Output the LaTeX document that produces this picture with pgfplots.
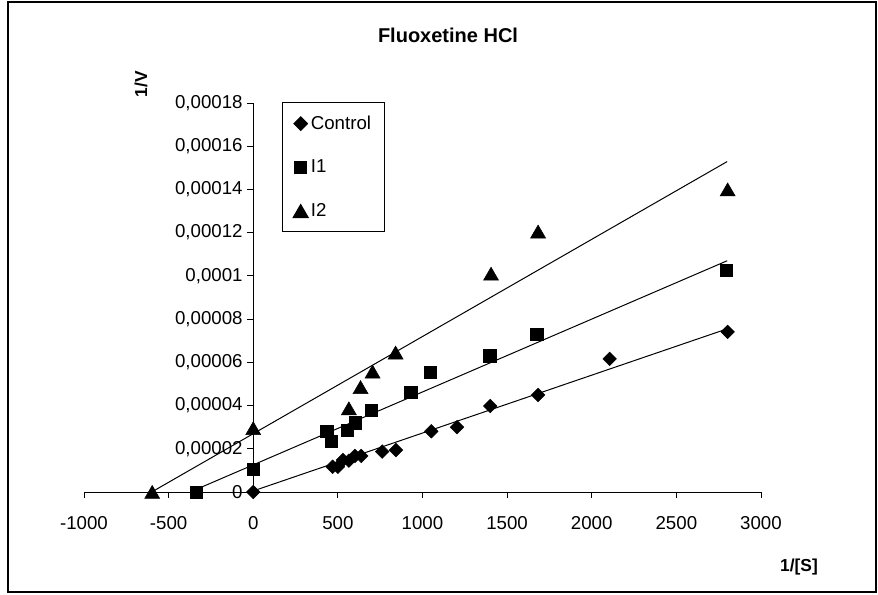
\documentclass[border=0pt]{standalone}
\usepackage{pgfplots}
\pgfplotsset{compat=1.18}
\usepackage{fontspec}
\setmainfont{Liberation Sans}
\begin{document}
\begin{tikzpicture}
\useasboundingbox (0,0) rectangle (658.5pt,-445.5pt);
\draw[line width=1pt] (6pt,-1.5pt) rectangle (657pt,-444pt);
\begin{axis}[
  at={(63pt,-369pt)}, anchor=south west,
  scale only axis, width=507.75pt, height=291.75pt,
  xmin=-1000, xmax=3000, ymin=0, ymax=0.00018,
  axis lines=middle, axis line style={-, line width=0.75pt},
  scaled y ticks=false, scaled x ticks=false,
  xtick={-1000,-500,0,500,1000,1500,2000,2500,3000},
  xticklabels={-1000,-500,0,500,1000,1500,2000,2500,3000},
  ytick={0,0.00002,0.00004,0.00006,0.00008,0.0001,0.00012,0.00014,0.00016,0.00018},
  yticklabels={0,{0,00002},{0,00004},{0,00006},{0,00008},{0,0001},{0,00012},{0,00014},{0,00016},{0,00018}},
  tick style={black, line width=0.75pt},
  tick align=outside, major tick length=4.5pt,
  hide obscured x ticks=false, hide obscured y ticks=false,
  ticklabel style={font=\fontsize{14}{16}\selectfont},
  xticklabel style={yshift=-10pt},
  clip=false,
  legend style={at={(axis description cs:0.2925,1.0026)}, anchor=north west, draw=black, line width=0.75pt,
    font=\fontsize{14}{16}\selectfont, row sep=17.5pt, inner xsep=8pt, inner ysep=8pt},
  legend image code/.code={\draw[#1, xshift=3pt] plot coordinates {(0.3cm,0cm)};},
  legend cell align=left,
]
\addplot[only marks, mark=square*, mark size=3.6pt, mark options={rotate=45, fill=black, draw=black}] coordinates {
(0,0) (469,0.0000117) (500,0.0000117) (530,0.0000148) (565,0.0000145) (601,0.0000167) (638,0.0000167)
(762,0.0000187) (843,0.0000194) (1052,0.0000281) (1204,0.00003) (1400,0.0000398) (1683,0.0000449)
(2106,0.0000616) (2803,0.0000741)};
\addlegendentry{Control}
\addplot[only marks, mark=square*, mark size=4.6pt, mark options={fill=black, draw=black}] coordinates {
(-337,0) (0,0.0000105) (435,0.0000282) (459,0.0000236) (556,0.0000287) (603,0.0000321) (699,0.0000377)
(930,0.000046) (1044,0.0000554) (1397,0.000063) (1675,0.000073) (2796,0.0001026)};
\addlegendentry{I1}
\addplot[only marks, mark=triangle*, mark size=6.5pt, mark options={fill=black, draw=black, yshift=-1.6pt}] coordinates {
(-597,0) (0,0.0000295) (565,0.0000387) (634,0.0000485) (705,0.0000557) (841,0.0000645)
(1405,0.000101) (1683,0.0001205) (2803,0.00014)};
\addlegendentry{I2}
\addplot[black, line width=0.75pt, forget plot] coordinates {(0,0.0000005) (2800,0.0000755)};
\addplot[black, line width=0.75pt, forget plot] coordinates {(-340,0.0000011) (2800,0.000107)};
\addplot[black, line width=0.75pt, forget plot] coordinates {(-600,0) (2800,0.0001529)};
\end{axis}
\node[font=\fontsize{15}{17}\selectfont\bfseries] at (336pt,-26.25pt) {Fluoxetine HCl};
\node[font=\fontsize{13}{15}\selectfont\bfseries, rotate=90] at (105.75pt,-63pt) {1/V};
\node[font=\fontsize{13}{15}\selectfont\bfseries] at (599.25pt,-425.25pt) {1/[S]};
\end{tikzpicture}
\end{document}
